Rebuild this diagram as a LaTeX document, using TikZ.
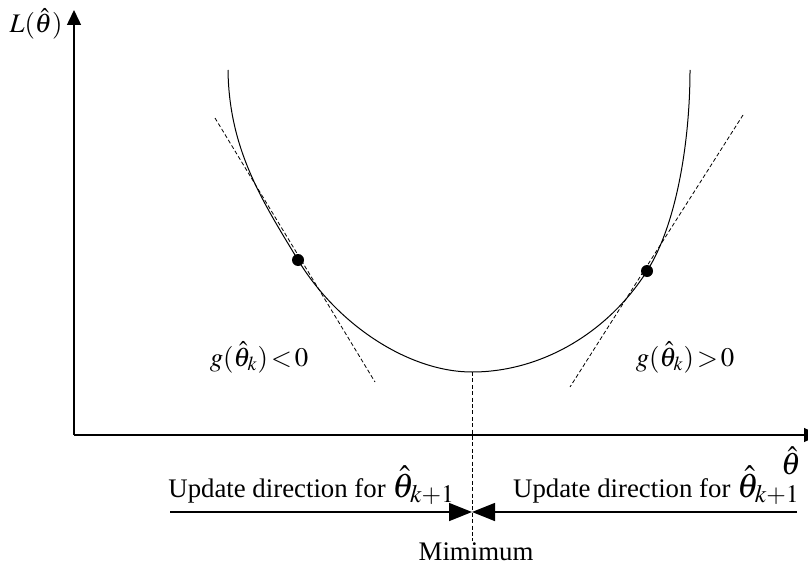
\documentclass[tikz,border=0pt]{standalone}
\usepackage{mathptmx}
\usepackage{fontspec}
\setmainfont{Liberation Serif}
\usetikzlibrary{arrows.meta}
\begin{document}
\begin{tikzpicture}[x=0.5pt,y=-0.5pt, font=\fontsize{13.4}{16}\selectfont,
 axis/.style={line width=0.75pt,-{Triangle[length=7.5pt,width=7pt]}},
 uarrow/.style={line width=0.75pt,-{Triangle[length=11.5pt,width=9pt]}},
 tang/.style={dash pattern=on 2pt off 1.2pt, line width=0.4pt},
 curvestyle/.style={line width=0.5pt},
 dot/.style={circle,fill=black,inner sep=0pt,minimum size=6pt},
 lbl/.style={inner sep=0pt},
 bigth/.style={font=\fontsize{15.5}{17}\selectfont}]
\useasboundingbox (0,0) rectangle (808,567);
\coordinate (O) at (74,435);
\coordinate (ytip) at (74,10);
\coordinate (xtip) at (819,435);
\draw[axis] (O) -- (ytip);
\draw[axis] (O) -- (xtip);
\node[lbl,anchor=base] (ylab) at (36,33) {$L(\hat{\theta})$};
\node[lbl,bigth] (xlab) at (791,461) {$\hat{\theta}$};
% curve
\draw[curvestyle] (228,70) .. controls (229,150) and (263,202) .. (298,260)
  .. controls (338,326) and (410,372) .. (472,372)
  .. controls (540,372) and (607,334) .. (647,271)
  .. controls (677,224) and (690,140) .. (690,70);
\coordinate (tl1) at (215,118);
\coordinate (tl2) at (375,382);
\coordinate (tr1) at (743,115);
\coordinate (tr2) at (570,387);
\draw[tang] (tl1) -- (tl2);
\draw[tang] (tr1) -- (tr2);
\node[dot] (dl) at (298,260) {};
\node[dot] (dr) at (647,271) {};
\node[lbl,anchor=base] (gl) at (259,366) {$g(\hat{\theta}_k)\!<\!0$};
\node[lbl,anchor=base] (gr) at (685,366) {$g(\hat{\theta}_k)\!>\!0$};
% minimum
\coordinate (bot) at (472,372);
\node[lbl,anchor=base] (mim) at (476,560) {Mimimum};
\draw[tang] (bot) -- (472,541);
\coordinate (la) at (170,512);
\coordinate (ra) at (797,512);
\coordinate (mid) at (472,512);
\draw[uarrow] (la) -- (mid);
\draw[uarrow] (ra) -- (mid);
\node[lbl,anchor=base west] (ul) at (168,497) {Update direction for {\fontsize{17}{19}\selectfont$\hat{\theta}_{k+1}$}};
\node[lbl,anchor=base east] (ur) at (800,497) {Update direction for {\fontsize{17}{19}\selectfont$\hat{\theta}_{k+1}$}};
\end{tikzpicture}
\end{document}
